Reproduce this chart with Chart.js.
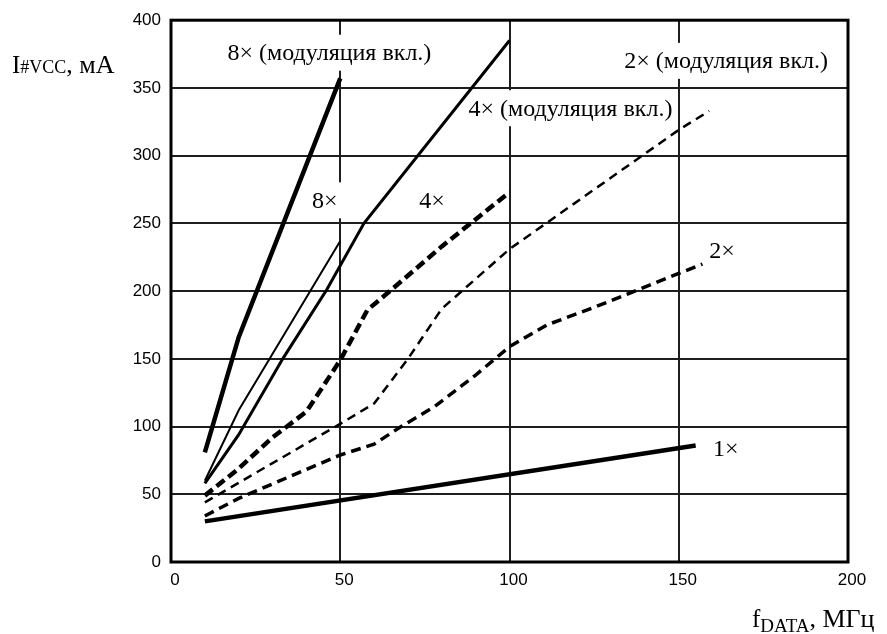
<!DOCTYPE html>
<html>
<head>
<meta charset="utf-8">
<script src="https://cdn.jsdelivr.net/npm/chart.js@4.4.1/dist/chart.umd.min.js"></script>
<style>
  body { margin: 0; background: #fff; }
</style>
</head>
<body>
<canvas id="chart" width="887" height="634"></canvas>
<script>
// x ticks / y ticks
const xTicks = [0, 50, 100, 150, 200];
const yTicks = [0, 50, 100, 150, 200, 250, 300, 350, 400];

// f_DATA, MHz  ->  I#VCC, mA
const mod8X = [10, 20, 50];
const mod8Y = [81, 166, 357];

const x8X = [10, 20, 50];
const x8Y = [60, 112, 237];

const mod4X = [10, 20, 33, 46, 57, 100];
const mod4Y = [58, 94, 150, 201, 250, 385];

const x4X = [10, 20, 30, 40, 50, 58, 67, 80, 100];
const x4Y = [49, 69, 92, 111, 149, 186, 205, 233, 273];

const mod2X = [10, 30, 50, 60, 70, 80, 90, 100, 150, 159];
const mod2Y = [44, 73, 102, 117, 150, 187, 209, 231, 319, 333];

const x2X = [10, 20, 50, 60, 68, 78, 90, 100, 111, 125, 135, 150, 157];
const x2Y = [34, 47, 79, 87, 100, 115, 138, 159, 175, 188, 198, 213, 220];

const x1X = [10, 155];
const x1Y = [30, 86];

const curveLabels = [
  { text: "8× (модуляция вкл.)", x: 46.8, y: 376 },
  { text: "4× (модуляция вкл.)", x: 118, y: 335 },
  { text: "2× (модуляция вкл.)", x: 164, y: 370 },
  { text: "8×", x: 45.4, y: 267 },
  { text: "4×", x: 77.1, y: 267 },
  { text: "2×", x: 162.8, y: 230 },
  { text: "1×", x: 163.9, y: 84 }
];

function points(xs, ys) {
  return xs.map((x, i) => ({ x: x, y: ys[i] }));
}

function curve(xs, ys, width, dash) {
  return {
    data: points(xs, ys),
    borderColor: "#000",
    borderWidth: width,
    borderDash: dash || [],
    borderCapStyle: "butt",
    pointRadius: 0,
    tension: 0,
    fill: false
  };
}

const serif = "'Liberation Serif', 'Times New Roman', serif";

const labelPlugin = {
  id: "curveLabels",
  beforeDatasetsDraw(chart) {
    const ctx = chart.ctx;
    const sx = chart.scales.x, sy = chart.scales.y;
    ctx.save();
    ctx.font = "24px " + serif;
    ctx.fillStyle = "#fff";
    curveLabels.forEach(l => {
      const w = ctx.measureText(l.text).width;
      const px = sx.getPixelForValue(l.x), py = sy.getPixelForValue(l.y);
      ctx.fillRect(px - w / 2 - 5, py - 18, w + 10, 36);
    });
    ctx.restore();
  },
  afterDatasetsDraw(chart) {
    const ctx = chart.ctx;
    const sx = chart.scales.x, sy = chart.scales.y;
    const a = chart.chartArea;
    ctx.save();
    ctx.lineWidth = 3;
    ctx.strokeStyle = "#000";
    ctx.strokeRect(a.left, a.top, a.right - a.left, a.bottom - a.top);

    ctx.font = "24px " + serif;
    ctx.fillStyle = "#000";
    ctx.textAlign = "center";
    ctx.textBaseline = "middle";
    curveLabels.forEach(l => {
      ctx.fillText(l.text, sx.getPixelForValue(l.x), sy.getPixelForValue(l.y) + 1);
    });

    // axis titles with subscripts
    ctx.textAlign = "left";
    ctx.textBaseline = "alphabetic";
    function run(parts, x, y) {
      parts.forEach(p => {
        ctx.font = p[1] + "px " + serif;
        ctx.fillText(p[0], x, y + p[2]);
        x += ctx.measureText(p[0]).width;
      });
    }
    run([["I", 25, 0], ["#VCC", 18, 0], [", мА", 26, 0]], 12, 73);
    run([["f", 25, 0], ["DATA", 19, 5], [", МГц", 26, 0]], 752, 627);
    ctx.restore();
  }
};

new Chart(document.getElementById("chart"), {
  type: "line",
  data: {
    datasets: [
      curve(mod8X, mod8Y, 4.5),
      curve(x8X, x8Y, 2),
      curve(mod4X, mod4Y, 3),
      curve(x4X, x4Y, 4.5, [10, 5]),
      curve(mod2X, mod2Y, 2.5, [9, 6]),
      curve(x2X, x2Y, 3.5, [10, 6]),
      curve(x1X, x1Y, 4.5)
    ]
  },
  options: {
    responsive: false,
    animation: false,
    layout: { padding: { top: 20, right: 39, left: 0, bottom: 0 } },
    plugins: { legend: { display: false }, tooltip: { enabled: false } },
    scales: {
      x: {
        type: "linear",
        min: xTicks[0],
        max: xTicks[xTicks.length - 1],
        afterFit(scale) { scale.height = 72; },
        afterBuildTicks(scale) { scale.ticks = xTicks.map(v => ({ value: v })); },
        grid: { color: "#1e1e1e", lineWidth: 2, drawTicks: false },
        border: { display: false },
        ticks: {
          color: "#000",
          padding: 8,
          labelOffset: 4,
          font: { family: "'Liberation Sans', Arial, sans-serif", size: 17 }
        }
      },
      y: {
        min: yTicks[0],
        max: yTicks[yTicks.length - 1],
        afterFit(scale) { scale.width = 171; },
        afterBuildTicks(scale) { scale.ticks = yTicks.map(v => ({ value: v })); },
        grid: { color: "#1e1e1e", lineWidth: 2, drawTicks: false },
        border: { display: false },
        ticks: {
          color: "#000",
          padding: 10,
          font: { family: "'Liberation Sans', Arial, sans-serif", size: 17 }
        }
      }
    }
  },
  plugins: [labelPlugin]
});
</script>
</body>
</html>
